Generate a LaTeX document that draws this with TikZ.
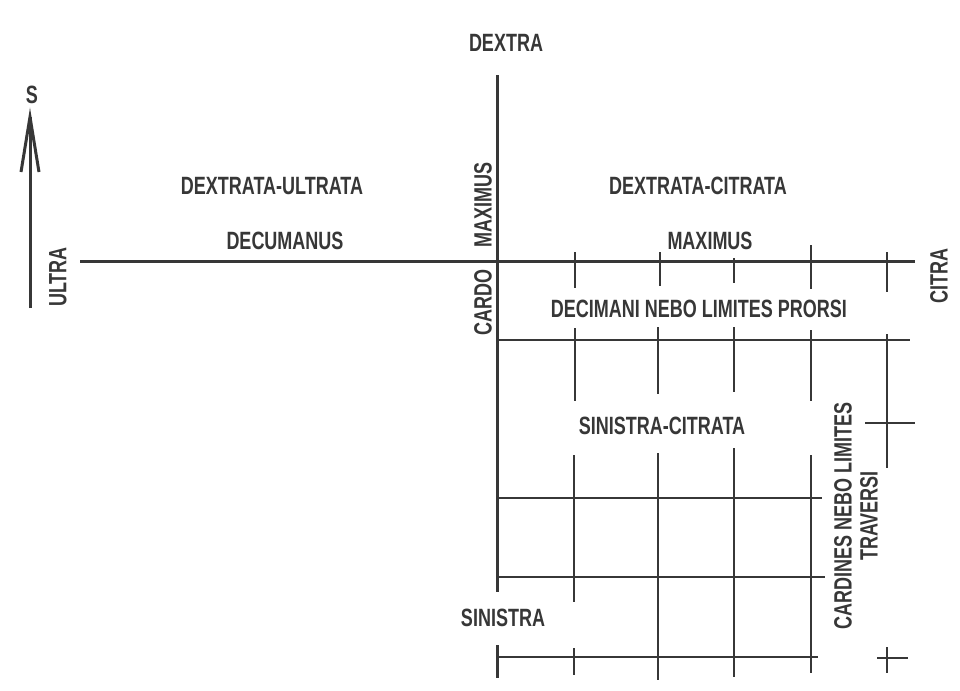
\documentclass[tikz,border=0pt]{standalone}
\usepackage{fontspec}
\setmainfont[FakeStretch=0.72]{Liberation Sans}
\usetikzlibrary{arrows.meta}
\definecolor{ink}{RGB}{55,55,55}
\tikzset{
  lbl/.style={font=\fontsize{12.5}{13}\selectfont\bfseries, text=ink, inner sep=0pt, align=center},
  road/.style={draw=ink, line width=1.5pt},
  grid/.style={draw=ink, line width=1.25pt},
}
\begin{document}
\begin{tikzpicture}[x=0.5pt, y=-0.5pt]
\useasboundingbox[fill=white] (0,0) rectangle (960,691);
% --- north arrow
\coordinate (arrB) at (30,308);
\coordinate (arrT) at (30,117);
\coordinate (barbL) at (21,172);
\coordinate (barbR) at (39,172);
\draw[road] (arrB) -- (arrT);
\draw[road, line join=miter] (barbL) -- (arrT) -- (barbR);
\node[lbl] (s) at (32,95) {S};
% --- labels
\node[lbl] (dextra) at (506,43) {DEXTRA};
\node[lbl, rotate=90] (ultra) at (58,277) {ULTRA};
\node[lbl, rotate=90] (citra) at (939,276) {CITRA};
\node[lbl] (du) at (272,186) {DEXTRATA-ULTRATA};
\node[lbl] (dc) at (698,186) {DEXTRATA-CITRATA};
\node[lbl] (decum) at (285,241) {DECUMANUS};
\node[lbl] (maxh) at (710,241) {MAXIMUS};
\node[lbl, rotate=90] (maxv) at (483,205) {MAXIMUS};
\node[lbl, rotate=90] (cardo) at (483,302) {CARDO};
\node[lbl] (prorsi) at (699,309) {DECIMANI NEBO LIMITES PRORSI};
\node[lbl] (sc) at (662,426) {SINISTRA-CITRATA};
\node[lbl] (sin) at (503,618) {SINISTRA};
\node[lbl, rotate=90] (trav) at (856,516) {CARDINES NEBO LIMITES\\TRAVERSI};
% --- main axes
\coordinate (dW) at (80,261);
\coordinate (dE) at (915,261);
\coordinate (cN) at (497,75);
\coordinate (cS1) at (497,592);
\coordinate (cS2) at (497,645);
\coordinate (cS3) at (497,678);
\draw[road] (dW) -- (dE);
\draw[road] (cN) -- (cS1);
\draw[road] (cS2) -- (cS3);
% ticks on decumanus
\foreach \x/\a/\b in {575/252/288, 660/252/286, 734/258/283, 811/245/289, 887/252/292}
  \draw[grid] (\x,\a) -- (\x,\b);
% row 1
\coordinate (r1W) at (497,340);
\coordinate (r1E) at (910,340);
\draw[grid] (r1W) -- (r1E);
\foreach \x/\a/\b in {575/328/401, 658/327/394, 734/327/392, 811/330/401}
  \draw[grid] (\x,\a) -- (\x,\b);
% right vertical with cross
\draw[grid] (887,334) -- (887,468);
\draw[grid] (865,423) -- (915,423);
% lower columns
\foreach \x/\a/\b in {574/455/602, 658/453/680, 734/448/677, 811/455/673}
  \draw[grid] (\x,\a) -- (\x,\b);
% rows 2-4
\draw[grid] (497,498) -- (822,498);
\draw[grid] (497,577) -- (825,577);
\draw[grid] (497,657) -- (818,657);
\draw[grid] (574,648) -- (574,675);
% bottom right cross
\draw[grid] (877,658) -- (908,658);
\draw[grid] (887,647) -- (887,673);
\end{tikzpicture}
\end{document}
